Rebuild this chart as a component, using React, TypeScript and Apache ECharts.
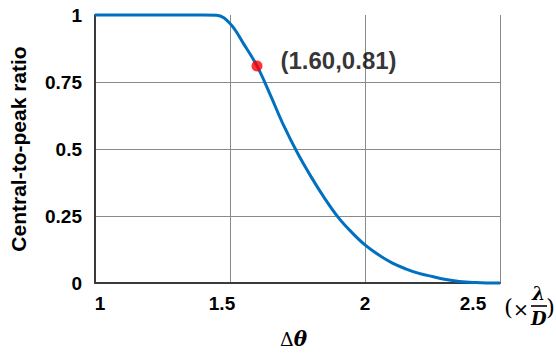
import React, { useEffect, useRef } from "react";
import * as echarts from "echarts";

const xValues = [1.0, 1.05, 1.1, 1.15, 1.2, 1.25, 1.3, 1.35, 1.4, 1.45, 1.5, 1.55, 1.6, 1.65, 1.7, 1.75, 1.8, 1.85, 1.9, 1.95, 2.0, 2.05, 2.1, 2.15, 2.2, 2.25, 2.3, 2.35, 2.4, 2.45, 2.5];
const yValues = [1, 1, 1, 1, 1, 1, 1, 1, 1, 0.999, 0.968, 0.893, 0.81, 0.7, 0.585, 0.485, 0.397, 0.317, 0.246, 0.19, 0.142, 0.105, 0.075, 0.053, 0.036, 0.024, 0.013, 0.006, 0.002, 0.0, 0.0];
const markX = [1.6];
const markY = [0.81];
const xTickLabels = ["1", "1.5", "2", "2.5"];
const yTickLabels = ["0", "0.25", "0.5", "0.75", "1"];

export default function App() {
  const ref = useRef<HTMLDivElement>(null);
  useEffect(() => {
    if (!ref.current) return;
    const chart = echarts.init(ref.current, null, { renderer: "svg" });
    const labelFont = "Liberation Sans, Arial, sans-serif";
    const mathFont = "DejaVu Serif, Liberation Serif, serif";
    chart.setOption({
      animation: false,
      backgroundColor: "#ffffff",
      grid: { left: 95, right: 56, top: 15, bottom: 75 },
      xAxis: {
        type: "value",
        min: 1,
        max: 2.5,
        interval: 0.5,
        name: "{d|Δ}{t|θ}",
        nameLocation: "middle",
        nameGap: 46,
        nameTextStyle: {
          padding: [0, 8, 0, 0],
          rich: {
            d: { fontFamily: mathFont, fontSize: 19, color: "#000" },
            t: { fontFamily: mathFont, fontSize: 20, fontStyle: "italic", fontWeight: "bold", color: "#000" },
          },
        },
        axisLine: { show: true, lineStyle: { color: "#3a3a3a", width: 2 } },
        axisTick: { show: false },
        splitLine: { show: true, lineStyle: { color: "#8a8a8a", width: 1 } },
        axisLabel: {
          margin: 11,
          formatter: (v: number) => {
            const idx = [1, 1.5, 2, 2.5].findIndex((t) => Math.abs(t - v) < 1e-6);
            const keys = ["a", "b", "c", "e"];
            return idx >= 0 ? `{${keys[idx]}|${xTickLabels[idx]}}` : "";
          },
          rich: {
            a: { fontFamily: labelFont, fontSize: 19, fontWeight: "bold", color: "#000", padding: [0, 0, 0, 10] },
            b: { fontFamily: labelFont, fontSize: 19, fontWeight: "bold", color: "#000", padding: [0, 16, 0, 0] },
            c: { fontFamily: labelFont, fontSize: 19, fontWeight: "bold", color: "#000" },
            e: { fontFamily: labelFont, fontSize: 19, fontWeight: "bold", color: "#000", padding: [0, 54, 0, 0] },
          },
        },
      },
      yAxis: {
        type: "value",
        min: 0,
        max: 1,
        interval: 0.25,
        name: "Central-to-peak ratio",
        nameLocation: "middle",
        nameGap: 66,
        nameRotate: 90,
        nameTextStyle: { fontFamily: labelFont, fontSize: 21, fontWeight: "bold", color: "#000" },
        axisLine: { show: true, lineStyle: { color: "#3a3a3a", width: 2 } },
        axisTick: { show: false },
        splitLine: { show: true, showMaxLine: false, showMinLine: false, lineStyle: { color: "#8a8a8a", width: 1 } },
        axisLabel: {
          margin: 13,
          fontFamily: labelFont,
          fontSize: 19,
          fontWeight: "bold",
          color: "#000",
          formatter: (v: number) => {
            const idx = Math.round(v / 0.25);
            return yTickLabels[idx] ?? "";
          },
        },
      },
      series: [
        {
          type: "line",
          data: xValues.map((x, i) => [x, yValues[i]]),
          smooth: 0.4,
          showSymbol: false,
          clip: false,
          lineStyle: { color: "#0070C0", width: 3 },
          z: 2,
        },
        {
          type: "scatter",
          data: markX.map((x, i) => [x, markY[i]]),
          symbolSize: 11,
          itemStyle: { color: "#ff0000" },
          z: 3,
          label: {
            show: true,
            position: "right",
            distance: 18,
            offset: [0, -5],
            formatter: (p: any) => `(${p.value[0].toFixed(2)},${p.value[1].toFixed(2)})`,
            fontFamily: labelFont,
            fontSize: 24,
            fontWeight: "bold",
            color: "#000",
          },
        },
      ],
      graphic: [
        {
          type: "group",
          left: 504,
          top: 283,
          children: [
            { type: "text", x: 0, y: 12, style: { text: "(", font: "23px 'DejaVu Serif'", fill: "#000" } },
            { type: "text", x: 9, y: 16, style: { text: "×", font: "19px 'DejaVu Serif'", fill: "#000" } },
            { type: "text", x: 28, y: 0, style: { text: "λ", font: "italic bold 19px 'DejaVu Serif'", fill: "#000" } },
            { type: "line", shape: { x1: 27, y1: 23, x2: 43, y2: 23 }, style: { stroke: "#000", lineWidth: 1.6 } },
            { type: "text", x: 27, y: 26, style: { text: "D", font: "italic bold 18px 'DejaVu Serif'", fill: "#000" } },
            { type: "text", x: 42, y: 12, style: { text: ")", font: "23px 'DejaVu Serif'", fill: "#000" } },
          ],
        },
      ],
    });
    return () => chart.dispose();
  }, []);
  return <div ref={ref} style={{ width: 556, height: 358, position: "absolute", left: 0, top: 0 }} />;
}
